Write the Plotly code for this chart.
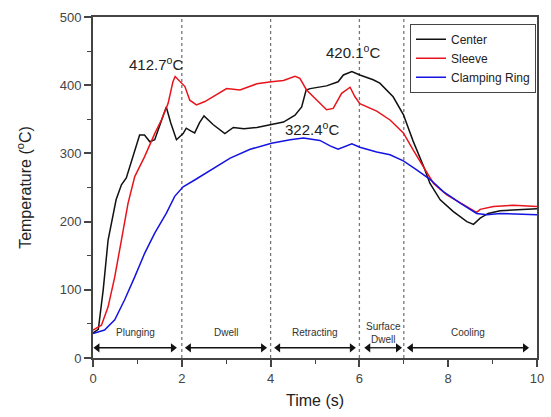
import plotly.graph_objects as go

# ---- data ----
center_t = [0, 0.12, 0.23, 0.34, 0.52, 0.64, 0.75, 0.85, 0.94, 1.05, 1.16, 1.28, 1.39, 1.50, 1.65,
            1.75, 1.88, 2.03, 2.10, 2.20, 2.29, 2.40, 2.50, 2.71, 2.97, 3.16, 3.40, 3.69, 3.99, 4.29,
            4.55, 4.70, 4.80, 4.89, 5.26, 5.52, 5.64, 5.83, 6.01, 6.31, 6.46, 6.69, 6.76, 6.99, 7.21,
            7.44, 7.59, 7.82, 8.11, 8.42, 8.57, 8.72, 8.90, 9.17, 9.62, 10.0]
center_T = [37, 42, 100, 173, 232, 254, 264, 285, 305, 327, 327, 317, 320, 339, 368,
            345, 320, 329, 337, 333, 330, 345, 355, 342, 329, 338, 336, 338, 342, 346,
            356, 368, 393, 395, 399, 405, 415, 420.1, 415, 408, 403, 388, 383, 357, 318,
            282, 256, 232, 215, 200, 196, 205, 212, 216, 218, 219]

sleeve_t = [0, 0.19, 0.34, 0.49, 0.64, 0.79, 0.94, 1.16, 1.39, 1.54, 1.69, 1.80, 1.85, 1.96, 2.07,
            2.18, 2.33, 2.52, 2.79, 3.01, 3.31, 3.69, 4.02, 4.29, 4.55, 4.66, 4.81, 5.04, 5.26, 5.41,
            5.60, 5.79, 5.90, 6.01, 6.39, 6.69, 6.99, 7.21, 7.44, 7.67, 7.97, 8.27, 8.60, 8.65, 8.72,
            9.02, 9.47, 10.0]
sleeve_T = [41, 48, 75, 119, 173, 227, 266, 295, 329, 349, 373, 405, 412.7, 405, 398,
            378, 371, 376, 386, 395, 393, 402, 405, 407, 413, 410, 393, 378, 364, 366,
            388, 397, 383, 373, 362, 349, 330, 305, 280, 256, 239, 227, 215, 214, 218,
            222, 224, 222]

ring_t = [0, 0.26, 0.49, 0.71, 0.94, 1.16, 1.39, 1.65, 1.84, 2.03, 2.29, 2.56, 3.09, 3.54, 4.02,
          4.44, 4.74, 5.11, 5.34, 5.52, 5.83, 6.01, 6.39, 6.69, 6.99, 7.29, 7.59, 7.89, 8.27, 8.64,
          8.87, 9.17, 9.54, 10.0]
ring_T = [36, 41, 56, 85, 119, 153, 183, 212, 237, 251, 261, 272, 293, 306, 315,
          320, 322.4, 319, 311, 306, 314, 309, 302, 298, 289, 276, 262, 244, 227, 212,
          210, 212, 211, 210]

series_names = ["Center", "Sleeve", "Clamping Ring"]

phase_bounds = [2, 4, 6, 7]
phase_names = ["Plunging", "Dwell", "Retracting", "Surface<br>Dwell", "Cooling"]
phase_start = [0.1, 2.16, 4.17, 6.2, 7.16]
phase_end = [1.8, 3.83, 5.83, 6.87, 9.73]
phase_arrow_level = 15
phase_label_level = 37

peak_labels = ["412.7<sup>o</sup>C", "420.1<sup>o</sup>C", "322.4<sup>o</sup>C"]
peak_x = [1.42, 5.86, 4.94]
peak_y = [432, 449, 337]

FONT = "Arial, Liberation Sans, sans-serif"

fig = go.Figure()
colors = ["#111111", "#e8141c", "#1414e0"]
for name, t, T, c in zip(series_names, [center_t, sleeve_t, ring_t],
                         [center_T, sleeve_T, ring_T], colors):
    fig.add_trace(go.Scatter(x=t, y=T, mode="lines", name=name,
                             line=dict(color=c, width=1.5)))

for b in phase_bounds:
    fig.add_shape(type="line", xref="x", yref="y", x0=b, x1=b, y0=0, y1=500,
                  line=dict(color="#777777", width=1.3, dash="dot"), layer="below")

for name, s, e in zip(phase_names, phase_start, phase_end):
    fig.add_trace(go.Scatter(x=[s, e], y=[phase_arrow_level, phase_arrow_level],
                             mode="lines+markers", showlegend=False, hoverinfo="skip",
                             line=dict(color="#111111", width=1.3),
                             marker=dict(symbol=["triangle-left", "triangle-right"],
                                         size=8, color="#111111")))
    fig.add_annotation(x=(s + e) / 2, y=phase_label_level, xref="x", yref="y", text=name,
                       showarrow=False, font=dict(family=FONT, size=10, color="#333333"),
                       yanchor="middle")

for lab, x, y in zip(peak_labels, peak_x, peak_y):
    fig.add_annotation(x=x, y=y, xref="x", yref="y", text=lab, showarrow=False,
                       font=dict(family=FONT, size=15, color="#222222"))

axis_common = dict(showline=True, linecolor="#444444", linewidth=1.8, mirror=True,
                   ticks="outside", ticklen=7, tickwidth=1.5, tickcolor="#444444",
                   showgrid=False, zeroline=False, automargin=False,
                   tickfont=dict(family=FONT, size=13, color="#444444"))

fig.update_xaxes(range=[0, 10], dtick=2, tick0=0,
                 minor=dict(dtick=1, ticklen=4, tickwidth=1.2, tickcolor="#444444", ticks="outside"),
                 title=dict(text="Time (s)", font=dict(family=FONT, size=16, color="#222222"), standoff=10),
                 **axis_common)
fig.update_yaxes(range=[0, 500], dtick=100, tick0=0,
                 minor=dict(dtick=50, ticklen=4, tickwidth=1.2, tickcolor="#444444", ticks="outside"),
                 title=dict(text="Temperature (<sup>o</sup>C)", font=dict(family=FONT, size=16, color="#222222"), standoff=24),
                 **axis_common)

fig.update_layout(
    width=551, height=417,
    margin=dict(l=93, r=14, t=17, b=59),
    paper_bgcolor="white", plot_bgcolor="white",
    font=dict(family=FONT, color="#333333"),
    legend=dict(x=0.714, y=0.98, xanchor="left", yanchor="top",
                bgcolor="white", bordercolor="#444444", borderwidth=1,
                font=dict(family=FONT, size=12, color="#222222"),
                tracegroupgap=0, itemwidth=30),
)

fig.write_html("out.html", config={"displayModeBar": False},
               post_script="document.body.style.margin='0';")
